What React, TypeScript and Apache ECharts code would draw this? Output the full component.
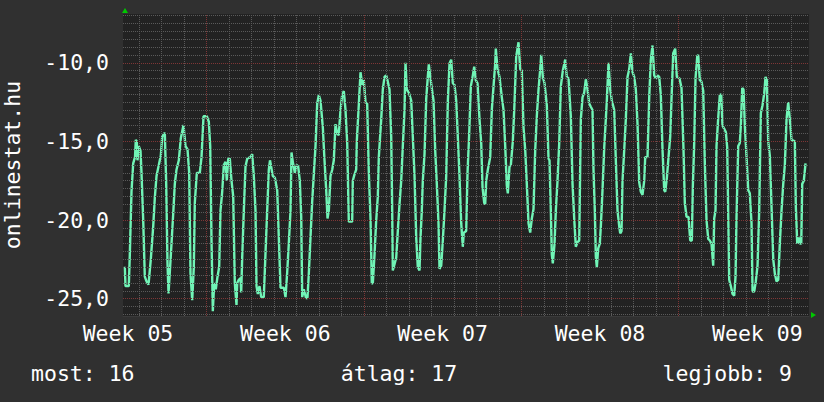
import React, { useEffect, useRef } from 'react';
import * as echarts from 'echarts';

// Readings: [day (days since Monday of week 05), temperature °C]
const seg1 = [[3.359,-22.97],[3.390,-24.2],[3.537,-24.2],[3.582,-22.2],[3.657,-18.2],[3.733,-16.4],[3.813,-16.0],[3.849,-14.9],[3.893,-15.0],[3.924,-16.2],[3.982,-15.3],[4.058,-15.6],[4.102,-17.0],[4.178,-20.0],[4.249,-23.6],[4.325,-23.9],[4.414,-24.1],[4.516,-22.5],[4.623,-20.4],[4.694,-18.6],[4.770,-17.2],[4.872,-16.5],[4.961,-15.9],[5.024,-14.7],[5.139,-14.45],[5.201,-17.7],[5.259,-22.75],[5.304,-24.66],[5.379,-22.9],[5.437,-21.5],[5.513,-19.6],[5.584,-17.7],[5.659,-16.8],[5.762,-16.2],[5.851,-14.8],[5.971,-13.96],[6.060,-15.3],[6.149,-15.5],[6.224,-17.0],[6.282,-23.4],[6.358,-25.1],[6.429,-23.0],[6.474,-18.9],[6.563,-17.0],[6.696,-17.0],[6.772,-16.0],[6.861,-13.4],[7.008,-13.4],[7.097,-13.75],[7.159,-15.3],[7.217,-21.3],[7.275,-25.8],[7.337,-24.0],[7.408,-24.4],[7.484,-23.6],[7.559,-22.97],[7.617,-19.4],[7.693,-18.2],[7.764,-16.5],[7.840,-16.3],[7.897,-17.5],[7.960,-16.1],[8.031,-16.1],[8.107,-17.5],[8.182,-18.5],[8.253,-24.0],[8.329,-25.4]];
const seg2 = [[8.360,-24.0],[8.431,-23.8],[8.507,-23.7],[8.538,-24.6],[8.582,-22.4],[8.654,-19.4],[8.729,-16.6],[8.805,-16.1],[8.952,-16.0],[9.028,-15.8],[9.099,-17.2],[9.174,-19.4],[9.219,-24.2],[9.277,-24.7],[9.352,-24.2],[9.428,-24.9],[9.543,-24.9],[9.619,-22.1],[9.694,-19.4],[9.766,-16.8],[9.819,-16.2],[9.944,-17.2],[10.033,-17.3],[10.140,-18.1],[10.211,-21.1],[10.287,-24.3],[10.434,-24.3],[10.510,-24.9],[10.585,-23.3],[10.656,-21.5],[10.732,-19.4],[10.776,-15.7],[10.834,-16.3],[10.923,-17.0],[10.999,-16.5],[11.074,-16.6],[11.146,-17.5],[11.208,-19.8],[11.252,-24.9],[11.324,-24.4],[11.430,-25.0],[11.488,-24.9],[11.546,-23.4],[11.621,-21.1],[11.697,-18.8],[11.768,-17.1],[11.844,-15.3],[11.919,-12.6],[11.991,-12.05],[12.066,-12.4],[12.169,-14.1],[12.244,-16.2],[12.320,-18.1],[12.378,-19.9],[12.436,-19.4],[12.511,-17.2],[12.587,-16.8],[12.658,-16.2],[12.734,-13.9],[12.809,-14.5],[12.880,-14.6],[12.956,-13.0],[13.031,-12.05],[13.103,-11.8],[13.178,-13.0],[13.254,-15.1],[13.325,-20.1],[13.476,-20.1]];
const seg3 = [[13.503,-17.5],[13.579,-17.1],[13.654,-16.8],[13.681,-15.0],[13.757,-13.0],[13.846,-10.6],[13.921,-11.4],[13.992,-11.1],[14.068,-12.5],[14.143,-12.6],[14.214,-16.9],[14.291,-19.9],[14.349,-24.0],[14.393,-24.05],[14.469,-22.2],[14.545,-20.0],[14.616,-18.5],[14.660,-16.0],[14.767,-13.6],[14.838,-11.7],[14.914,-10.9],[14.989,-10.8],[15.060,-11.2],[15.136,-11.7],[15.212,-14.7],[15.256,-19.4],[15.283,-23.2],[15.359,-22.8],[15.434,-22.4],[15.505,-20.7],[15.581,-19.0],[15.657,-17.5],[15.728,-15.3],[15.804,-13.0],[15.848,-10.0],[15.906,-11.7],[15.995,-11.9],[16.102,-12.4],[16.173,-14.7],[16.249,-17.2],[16.324,-21.1],[16.395,-23.0],[16.471,-23.2],[16.516,-21.1],[16.573,-19.4],[16.618,-17.5],[16.694,-15.8],[16.769,-12.3],[16.840,-10.9],[16.885,-10.1],[16.960,-11.0],[17.036,-11.8],[17.094,-12.4],[17.170,-15.6],[17.241,-17.7],[17.316,-20.2],[17.361,-23.1],[17.437,-22.9],[17.508,-21.3],[17.583,-19.4],[17.659,-17.2],[17.730,-12.5],[17.806,-10.05],[17.881,-9.8],[17.953,-11.3],[18.028,-11.4],[18.104,-12.4],[18.175,-14.7],[18.250,-17.2],[18.326,-20.2],[18.397,-21.7],[18.441,-20.8],[18.548,-20.7]];
const seg4 = [[18.607,-17.0],[18.682,-14.5],[18.754,-11.5],[18.843,-10.8],[18.905,-10.25],[18.976,-11.1],[19.052,-11.3],[19.141,-13.6],[19.216,-15.1],[19.274,-17.9],[19.350,-18.9],[19.394,-19.0],[19.439,-17.5],[19.510,-16.8],[19.617,-16.0],[19.688,-13.0],[19.764,-11.5],[19.839,-10.05],[19.866,-9.1],[19.941,-10.4],[20.030,-10.9],[20.133,-12.2],[20.209,-13.0],[20.284,-15.3],[20.355,-17.8],[20.400,-18.3],[20.475,-16.6],[20.535,-16.5],[20.622,-15.0],[20.685,-13.0],[20.774,-9.6],[20.876,-8.7],[20.951,-10.4],[21.023,-10.5],[21.098,-14.1],[21.174,-15.55],[21.245,-17.7],[21.321,-20.2],[21.396,-20.8],[21.468,-19.9],[21.543,-19.3],[21.619,-15.55],[21.690,-13.4],[21.766,-11.7],[21.841,-10.4],[21.886,-9.5],[21.957,-10.9],[22.033,-11.3],[22.135,-12.7],[22.211,-16.1],[22.255,-16.2],[22.313,-19.4],[22.358,-22.2],[22.402,-22.75],[22.478,-21.5],[22.536,-19.4],[22.611,-17.5],[22.687,-15.1],[22.758,-11.5],[22.847,-10.5],[22.954,-9.8],[23.025,-10.9],[23.101,-11.0],[23.203,-13.4],[23.279,-17.7],[23.354,-19.9],[23.425,-21.7],[23.501,-21.4],[23.577,-21.3]];
const seg5 = [[23.648,-13.6],[23.723,-12.2],[23.799,-11.9],[23.870,-11.05],[23.946,-11.7],[24.021,-12.6],[24.092,-12.8],[24.168,-13.0],[24.212,-16.8],[24.271,-19.4],[24.315,-22.3],[24.360,-23.0],[24.422,-21.8],[24.493,-21.5],[24.538,-20.4],[24.613,-18.1],[24.689,-15.4],[24.760,-13.6],[24.805,-12.4],[24.880,-10.0],[24.956,-11.7],[25.027,-12.4],[25.134,-13.0],[25.205,-16.2],[25.281,-19.4],[25.357,-20.4],[25.401,-20.85],[25.459,-20.7],[25.503,-17.5],[25.579,-15.55],[25.650,-13.6],[25.726,-10.9],[25.802,-10.4],[25.873,-9.4],[25.948,-10.6],[26.024,-10.9],[26.095,-11.7],[26.171,-13.9],[26.246,-17.6],[26.317,-18.2],[26.393,-18.4],[26.469,-17.5],[26.513,-16.0],[26.615,-16.0],[26.691,-12.2],[26.762,-9.8],[26.838,-8.9],[26.913,-10.8],[26.985,-11.0],[27.060,-10.8],[27.136,-10.9],[27.207,-12.05],[27.283,-15.55],[27.358,-18.1],[27.403,-18.2],[27.474,-17.35],[27.550,-16.0],[27.625,-14.7],[27.683,-12.3],[27.759,-9.4],[27.848,-9.1],[27.919,-10.9],[28.039,-11.0],[28.128,-11.6],[28.217,-15.55],[28.275,-18.9],[28.351,-19.8],[28.440,-19.8],[28.515,-21.3],[28.587,-21.3]];
const seg6 = [[28.631,-17.9],[28.693,-15.1],[28.751,-11.0],[28.827,-9.6],[28.871,-9.5],[28.942,-11.1],[29.018,-11.2],[29.094,-11.8],[29.165,-16.4],[29.240,-20.0],[29.316,-21.2],[29.387,-21.3],[29.463,-21.5],[29.538,-22.9],[29.582,-19.9],[29.640,-19.4],[29.685,-15.3],[29.761,-13.5],[29.832,-12.05],[29.894,-12.0],[29.952,-14.0],[30.028,-14.2],[30.099,-14.4],[30.161,-15.4],[30.206,-19.6],[30.250,-23.8],[30.321,-24.2],[30.397,-24.7],[30.473,-24.8],[30.531,-23.6],[30.575,-19.8],[30.651,-15.3],[30.722,-15.1],[30.767,-14.0],[30.829,-11.6],[30.887,-11.7],[30.945,-14.0],[31.021,-16.0],[31.096,-18.1],[31.167,-18.3],[31.243,-20.2],[31.288,-24.55],[31.363,-24.55],[31.434,-23.9],[31.510,-22.9],[31.586,-19.3],[31.657,-13.2],[31.732,-12.7],[31.808,-11.95],[31.866,-10.9],[31.924,-11.1],[31.986,-15.0],[32.057,-15.9],[32.133,-19.15],[32.209,-22.5],[32.280,-23.4],[32.355,-23.9],[32.431,-23.8],[32.502,-21.5],[32.578,-19.4],[32.654,-17.7],[32.725,-16.5],[32.800,-13.6],[32.876,-12.5],[32.947,-13.6],[33.023,-14.9],[33.170,-15.0],[33.214,-19.15],[33.277,-21.5],[33.348,-21.1],[33.393,-21.5],[33.455,-21.5],[33.499,-17.7],[33.570,-17.5],[33.646,-16.4]];

const yTickValues = [-25, -20, -15, -10];
const yTickLabels = ['-25,0', '-20,0', '-15,0', '-10,0'];
const weekCenters = [3.5, 10.5, 17.5, 24.5, 31.5];
const weekLabels = ['Week 05', 'Week 06', 'Week 07', 'Week 08', 'Week 09'];
const weekStarts = [7, 14, 21, 28];
const footerLabels = ['most', 'átlag', 'legjobb'];
const footerValues = [16, 17, 9];
const yAxisTitle = 'onlinestat.hu';

const X_MIN = 3.279;
const X_MAX = 33.8;
const Y_MIN = -26.1;
const Y_MAX = -6.9;

const FONT = '"DejaVu Sans Mono", monospace';
const FS = 21.5;

function lookup(values: number[], labels: string[], v: number) {
  const i = values.findIndex((x) => Math.abs(x - v) < 1e-6);
  return i >= 0 ? labels[i] : '';
}

export default function App() {
  const ref = useRef<HTMLDivElement>(null);
  useEffect(() => {
    if (!ref.current) return;
    const chart = echarts.init(ref.current, undefined, { renderer: 'svg' });
    const data = [...seg1, ...seg2, ...seg3, ...seg4, ...seg5, ...seg6];

    const dayLines: number[] = [];
    for (let d = Math.ceil(X_MIN); d <= X_MAX; d++) if (!weekStarts.includes(d)) dayLines.push(d);
    const minorY: number[] = [];
    for (let k = Math.ceil(Y_MIN * 2); k <= Math.floor(Y_MAX * 2); k++) {
      const v = k / 2;
      if (!yTickValues.includes(v)) minorY.push(v);
    }

    const gridLine = (items: any[], color: string) => ({
      type: 'line',
      data: [],
      z: 1,
      silent: true,
      markLine: {
        silent: true,
        symbol: 'none',
        animation: false,
        label: { show: false },
        emphasis: { disabled: true },
        lineStyle: { color, width: 1, type: [1, 1] },
        data: items,
      },
    });

    const footerStyle = (i: number, align: string) => ({
      text: `${footerLabels[i]}: ${footerValues[i]}`,
      fill: '#ffffff',
      font: `${FS}px ${FONT}`,
      align,
      verticalAlign: 'middle',
      textAlign: align,
      textVerticalAlign: 'middle',
    });

    chart.setOption({
      animation: false,
      backgroundColor: '#303030',
      grid: {
        left: 123, top: 14, width: 686, height: 302,
        containLabel: false, outerBoundsMode: 'none',
        show: true, backgroundColor: '#222222', borderWidth: 0,
      },
      xAxis: {
        type: 'value',
        min: X_MIN,
        max: X_MAX,
        axisLine: { show: true, lineStyle: { color: '#3a3a3a', width: 1 } },
        axisTick: { show: false },
        splitLine: { show: false },
        axisLabel: {
          customValues: weekCenters,
          formatter: (v: number) => lookup(weekCenters, weekLabels, v),
          color: '#ffffff',
          fontFamily: FONT,
          fontSize: FS,
          margin: 6,
        },
      },
      yAxis: {
        type: 'value',
        min: Y_MIN,
        max: Y_MAX,
        name: yAxisTitle,
        nameLocation: 'middle',
        nameRotate: 90,
        nameGap: 100,
        nameTextStyle: { color: '#ffffff', fontFamily: FONT, fontSize: FS },
        axisLine: { show: false },
        axisTick: { show: false },
        splitLine: { show: false },
        axisLabel: {
          customValues: yTickValues,
          formatter: (v: number) => lookup(yTickValues, yTickLabels, v),
          color: '#ffffff',
          fontFamily: FONT,
          fontSize: FS,
          margin: 14,
        },
      },
      series: [
        gridLine([...dayLines.map((d) => ({ xAxis: d })), ...minorY.map((v) => ({ yAxis: v }))], '#5a5a5a'),
        gridLine([...weekStarts.map((d) => ({ xAxis: d })), ...yTickValues.map((v) => ({ yAxis: v }))], '#7e3636'),
        {
          type: 'line',
          data,
          z: 3,
          silent: true,
          showSymbol: false,
          symbol: 'none',
          lineStyle: { color: '#70f4b6', width: 2.4 },
        },
      ],
      graphic: [
        { type: 'polygon', shape: { points: [[122, 13], [128, 13], [125, 8]] }, style: { fill: '#00c800' } },
        { type: 'polygon', shape: { points: [[811, 312], [811, 318], [816, 315]] }, style: { fill: '#00c800' } },
        { type: 'text', x: 31, y: 373, style: footerStyle(0, 'left') },
        { type: 'text', x: 399, y: 373, style: footerStyle(1, 'center') },
        { type: 'text', x: 792, y: 373, style: footerStyle(2, 'right') },
      ],
    });
    return () => chart.dispose();
  }, []);
  return <div ref={ref} style={{ position: 'fixed', left: 0, top: 0, width: 824, height: 402 }} />;
}
